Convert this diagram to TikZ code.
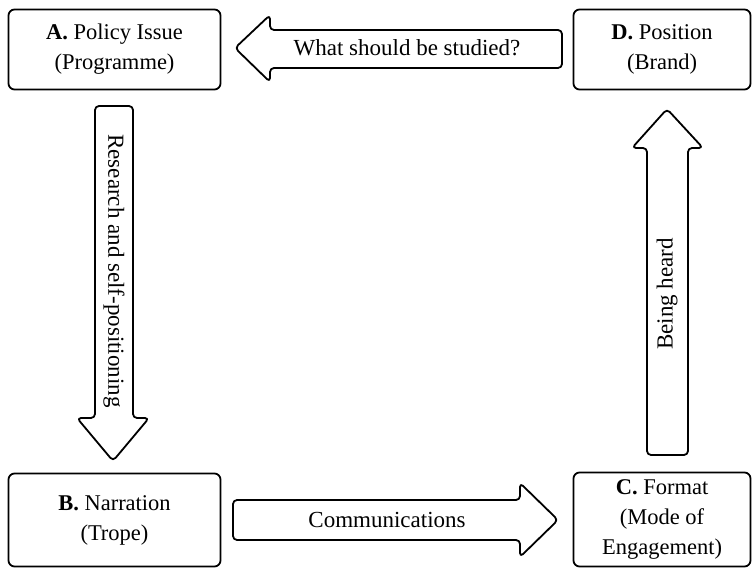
\documentclass[tikz,border=0pt]{standalone}
\usepackage{fontspec}
\setmainfont{Liberation Serif}
\begin{document}
\begin{tikzpicture}[x=1pt,y=-1pt,
  box/.style={draw,line width=1.8pt,rounded corners=6pt,align=center,inner sep=0pt,
    font=\fontsize{22.5}{30}\selectfont},
  blockarrow/.style={draw,line width=1.8pt,rounded corners=4pt,line join=round},
  lbl/.style={font=\fontsize{23}{27}\selectfont,inner sep=0pt}]
\useasboundingbox (0,0) rectangle (753,569);
% boxes
\node[box,minimum width=212pt,minimum height=80pt] (A) at (114.5,49.5) {\textbf{A.} Policy Issue\\(Programme)};
\node[box,minimum width=177pt,minimum height=80pt] (D) at (662,49.5) {\textbf{D.} Position\\(Brand)};
\node[box,minimum width=212pt,minimum height=93pt] (B) at (114.5,520) {\textbf{B.} Narration\\(Trope)};
\node[box,minimum width=177pt,minimum height=94pt] (C) at (662,519.5) {\textbf{C.} Format\\(Mode of\\Engagement)};
% top arrow (D -> A)
\draw[blockarrow] (235,48) -- (270,15) -- (270,30) -- (562,30) -- (562,68) -- (270,68) -- (270,82) -- cycle;
\node[lbl] (tA) at (407,48) {What should be studied?};
% down arrow (A -> B)
\draw[blockarrow] (95,106) -- (133,106) -- (133,418) -- (149,418) -- (113,461) -- (77,418) -- (95,418) -- cycle;
\node[lbl,rotate=-90] (tB) at (114,271) {Research and self-positioning};
% right arrow (B -> C)
\draw[blockarrow] (233,500) -- (520,500) -- (520,483) -- (558,520) -- (520,557) -- (520,540) -- (233,540) -- cycle;
\node[lbl] (tC) at (387,520) {Communications};
% up arrow (C -> D)
\draw[blockarrow] (647,455) -- (647,148) -- (632,148) -- (667,109) -- (703,148) -- (688,148) -- (688,455) -- cycle;
\node[lbl,rotate=90] (tD) at (667,294) {Being heard};
\end{tikzpicture}
\end{document}
